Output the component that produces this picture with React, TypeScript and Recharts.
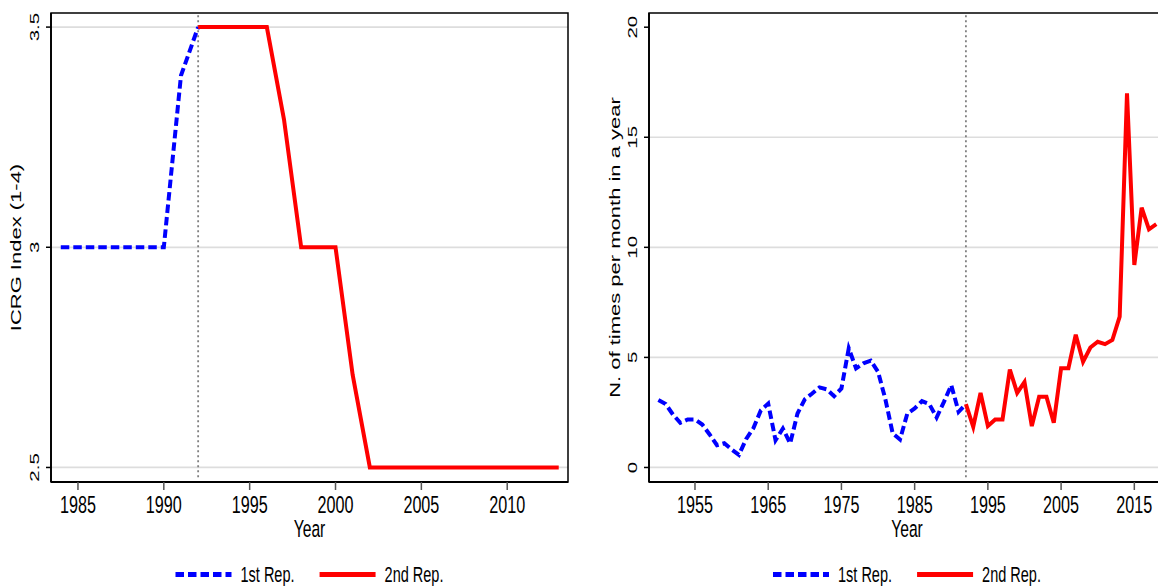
import React from 'react';
import {
  LineChart, Line, XAxis, YAxis, CartesianGrid, ReferenceLine, ReferenceArea, Legend,
} from 'recharts';

// ─── Data ──────────────────────────────────────────────────────────────────────
const ICRG_YEARS_1 = [1984, 1985, 1986, 1987, 1988, 1989, 1990, 1991, 1992];
const ICRG_FIRST   = [3, 3, 3, 3, 3, 3, 3, 3.39, 3.5];
const ICRG_YEARS_2 = [
  1992, 1993, 1994, 1995, 1996, 1997, 1998, 1999, 2000, 2001, 2002,
  2003, 2004, 2005, 2006, 2007, 2008, 2009, 2010, 2011, 2012, 2013,
];
const ICRG_SECOND  = [
  3.5, 3.5, 3.5, 3.5, 3.5, 3.29, 3, 3, 3, 2.71, 2.5,
  2.5, 2.5, 2.5, 2.5, 2.5, 2.5, 2.5, 2.5, 2.5, 2.5, 2.5,
];

const FREQ_YEARS_1 = [
  1950, 1951, 1952, 1953, 1954, 1955, 1956, 1957, 1958, 1959,
  1960, 1961, 1962, 1963, 1964, 1965, 1966, 1967, 1968, 1969,
  1970, 1971, 1972, 1973, 1974, 1975, 1976, 1977, 1978, 1979,
  1980, 1981, 1982, 1983, 1984, 1985, 1986, 1987, 1988, 1989,
  1990, 1991, 1992,
];
const FREQ_FIRST = [
  3.06, 2.88, 2.4, 2.03, 2.18, 2.18, 1.95, 1.5, 1.01, 1.1,
  0.82, 0.57, 1.3, 1.8, 2.6, 2.9, 1.24, 1.77, 1.09, 2.45,
  3.1, 3.36, 3.64, 3.55, 3.24, 3.59, 5.41, 4.5, 4.73, 4.85,
  4.35, 3.1, 1.55, 1.27, 2.45, 2.68, 3.01, 2.88, 2.27, 2.98,
  3.74, 2.53, 2.88,
];
const FREQ_YEARS_2 = [
  1992, 1993, 1994, 1995, 1996, 1997, 1998, 1999, 2000, 2001,
  2002, 2003, 2004, 2005, 2006, 2007, 2008, 2009, 2010, 2011,
  2012, 2013, 2014, 2015, 2016, 2017, 2018,
];
const FREQ_SECOND = [
  2.88, 1.85, 3.39, 1.88, 2.18, 2.18, 4.45, 3.39, 3.88, 1.88,
  3.21, 3.21, 2.03, 4.51, 4.51, 6.03, 4.8, 5.45, 5.71, 5.6,
  5.79, 6.85, 17.0, 9.2, 11.8, 10.82, 11.05,
];

const ICRG_TICKS_X = [1985, 1990, 1995, 2000, 2005, 2010];
const ICRG_TICKS_Y = [2.5, 3, 3.5];
const FREQ_TICKS_X = [1955, 1965, 1975, 1985, 1995, 2005, 2015];
const FREQ_TICKS_Y = [0, 5, 10, 15, 20];
const REP_CHANGE = 1992;

// ─── Style ─────────────────────────────────────────────────────────────────────
const FONT = '"Liberation Sans", Arial, Helvetica, sans-serif';
const SQ = 0.66;          // exported figure is squeezed horizontally
const BLUE = '#0000ff';
const RED = '#ff0000';
const DASH: Record<string, string | undefined> = { '1st Rep.': '8.5 4', '2nd Rep.': undefined };

const zip = (xs: number[], ys: number[]) => xs.map((year, i) => ({ year, v: ys[i] }));

let ctx: CanvasRenderingContext2D | null = null;
function textWidth(s: string, size: number) {
  if (!ctx) ctx = document.createElement('canvas').getContext('2d');
  if (!ctx) return s.length * size * 0.5 * SQ;
  ctx.font = `${size}px ${FONT}`;
  return ctx.measureText(s).width * SQ;
}

// ─── Ticks & labels ────────────────────────────────────────────────────────────
const XTick = (props: any) => {
  const { x, y, payload } = props;
  return (
    <g transform={`translate(${x},${y + 22.7}) scale(${SQ},1)`}>
      <text textAnchor="middle" fontSize={24.5} fontFamily={FONT} fill="#000">{payload.value}</text>
    </g>
  );
};

const YTick = (props: any) => {
  const { x, y, payload } = props;
  return (
    <g transform={`translate(${x - 7},${y}) scale(${SQ},1) rotate(-90)`}>
      <text textAnchor="middle" fontSize={20.5} fontFamily={FONT} fill="#000">{payload.value}</text>
    </g>
  );
};

const xLabel = (props: any) => {
  const vb = props.viewBox;
  return (
    <g transform={`translate(${vb.x + vb.width / 2},${vb.y + 55}) scale(${SQ},1)`}>
      <text textAnchor="middle" fontSize={23.7} fontFamily={FONT} fill="#000">Year</text>
    </g>
  );
};

const makeYLabel = (text: string, bx: number) => (props: any) => {
  const vb = props.viewBox;
  return (
    <g transform={`translate(${vb.x + bx},${vb.y + vb.height / 2}) scale(${SQ},1) rotate(-90)`}>
      <text textAnchor="middle" fontSize={22} fontFamily={FONT} fill="#000">{text}</text>
    </g>
  );
};

const makeLegend = (plotW: number) => (props: any) => {
  const items = props.payload || [];
  const SW = 56, GAP = 9, SPACE = 25, FS = 22;
  const widths = items.map((it: any) => textWidth(String(it.value), FS));
  const total = widths.reduce((s: number, w: number) => s + w, 0)
    + items.length * (SW + GAP) + (items.length - 1) * SPACE;
  let cur = plotW / 2 - total / 2;
  return (
    <svg width={plotW} height={30} style={{ display: 'block', overflow: 'visible' }}>
      {items.map((it: any, i: number) => {
        const x0 = cur;
        cur += SW + GAP + widths[i] + SPACE;
        return (
          <g key={i}>
            <line x1={x0} x2={x0 + SW} y1={18.5} y2={18.5} stroke={it.color} strokeWidth={5}
              strokeDasharray={DASH[it.value]} />
            <g transform={`translate(${x0 + SW + GAP},25.5) scale(${SQ},1)`}>
              <text fontSize={FS} fontFamily={FONT} fill="#000">{it.value}</text>
            </g>
          </g>
        );
      })}
    </svg>
  );
};

// ─── Panel ─────────────────────────────────────────────────────────────────────
interface PanelProps {
  first: { year: number; v: number }[];
  second: { year: number; v: number }[];
  xDomain: [number, number];
  yDomain: [number, number];
  xTicks: number[];
  yTicks: number[];
  gridValues: number[];
  yLabel: string;
  yLabelX: number;
  yAxisWidth: number;
  marginRight: number;
  refLow: number;
}

function Panel(p: PanelProps) {
  const W = 580, H = 586, TOP = 13, XAXIS_H = 104;
  const plotW = W - p.yAxisWidth - p.marginRight;
  return (
    <LineChart width={W} height={H} margin={{ top: TOP, right: p.marginRight, bottom: 0, left: 0 }}>
      <CartesianGrid vertical={false} horizontalValues={p.gridValues} stroke="#dddddd" strokeWidth={1.7} />
      <XAxis
        type="number" dataKey="year" domain={p.xDomain} ticks={p.xTicks} allowDataOverflow
        interval={0} height={XAXIS_H} tickSize={8} tickMargin={0} tick={<XTick />}
        axisLine={{ stroke: '#000', strokeWidth: 1.8 }} tickLine={{ stroke: '#555', strokeWidth: 1.5 }}
        label={xLabel}
      />
      <YAxis
        type="number" domain={p.yDomain} ticks={p.yTicks} allowDataOverflow
        interval={0} width={p.yAxisWidth} tickSize={5} tickMargin={0} tick={<YTick />}
        axisLine={{ stroke: '#000', strokeWidth: 1.8 }} tickLine={{ stroke: '#000', strokeWidth: 1.5 }}
        label={makeYLabel(p.yLabel, p.yLabelX)}
      />
      <ReferenceLine
        segment={[{ x: REP_CHANGE, y: p.refLow }, { x: REP_CHANGE, y: p.yDomain[1] }]}
        stroke="#808080" strokeWidth={1.8} strokeDasharray="2 3"
      />
      <Line
        data={p.first} dataKey="v" name="1st Rep." type="linear" stroke={BLUE} strokeWidth={4}
        strokeDasharray="8.5 4" dot={false} activeDot={false} isAnimationActive={false}
      />
      <Line
        data={p.second} dataKey="v" name="2nd Rep." type="linear" stroke={RED} strokeWidth={4}
        dot={false} activeDot={false} isAnimationActive={false}
      />
      <ReferenceArea
        x1={p.xDomain[0]} x2={p.xDomain[1]} y1={p.yDomain[0]} y2={p.yDomain[1]}
        fill="none" fillOpacity={0} stroke="#000" strokeWidth={1.5} ifOverflow="visible"
      />
      <Legend
        layout="horizontal" align="center" verticalAlign="middle"
        content={makeLegend(plotW)}
        wrapperStyle={{ left: p.yAxisWidth, top: 556, width: plotW, height: 30 }}
      />
    </LineChart>
  );
}

export default function App() {
  return (
    <div style={{
      position: 'absolute', left: 0, top: 0, width: 1158, height: 586,
      overflow: 'hidden', background: '#fff', fontFamily: FONT,
    }}>
      <div style={{ position: 'absolute', left: 0, top: 0 }}>
        <Panel
          first={zip(ICRG_YEARS_1, ICRG_FIRST)}
          second={zip(ICRG_YEARS_2, ICRG_SECOND)}
          xDomain={[1983.43, 2013.54]}
          yDomain={[2.467, 3.532]}
          xTicks={ICRG_TICKS_X}
          yTicks={ICRG_TICKS_Y}
          gridValues={ICRG_TICKS_Y}
          yLabel="ICRG Index (1-4)"
          yLabelX={20.5}
          yAxisWidth={51}
          marginRight={12}
          refLow={2.478}
        />
      </div>
      <div style={{ position: 'absolute', left: 600, top: 0 }}>
        <Panel
          first={zip(FREQ_YEARS_1, FREQ_FIRST)}
          second={zip(FREQ_YEARS_2, FREQ_SECOND)}
          xDomain={[1948.72, 2019.19]}
          yDomain={[-0.66, 20.645]}
          xTicks={FREQ_TICKS_X}
          yTicks={FREQ_TICKS_Y}
          gridValues={[0, 5, 10, 15]}
          yLabel="N. of times per month in a year"
          yLabelX={19.5}
          yAxisWidth={49}
          marginRight={15}
          refLow={-0.44}
        />
      </div>
    </div>
  );
}
